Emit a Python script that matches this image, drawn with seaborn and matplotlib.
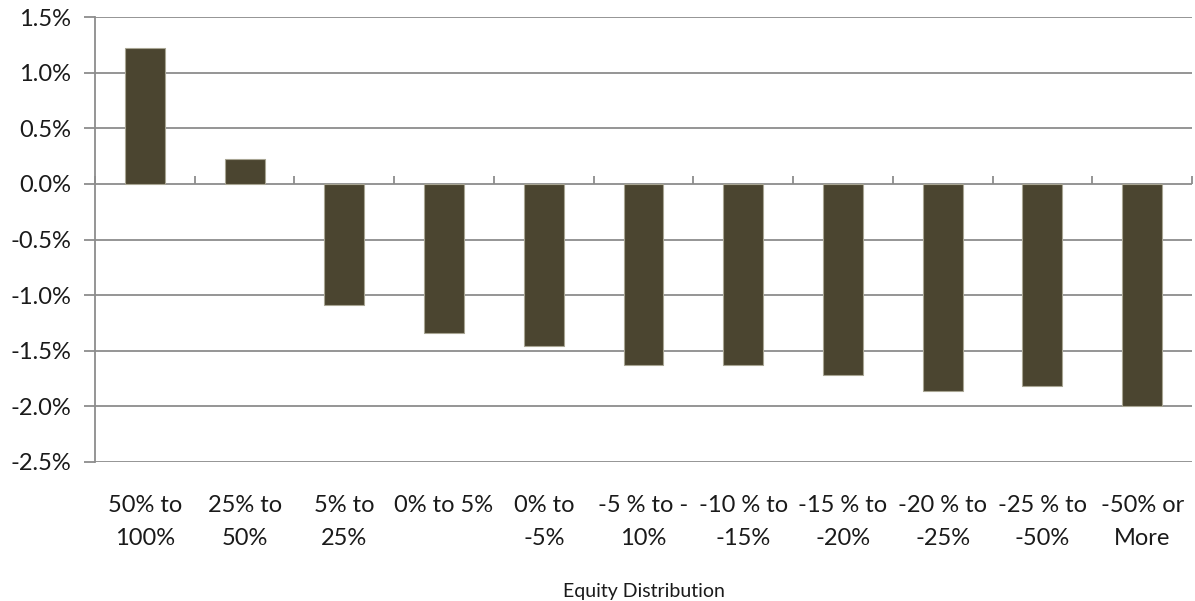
import matplotlib
matplotlib.use("Agg")
import matplotlib.pyplot as plt
from matplotlib.ticker import FuncFormatter, FixedLocator
import numpy as np
import pandas as pd
import seaborn as sns

# Equity distribution buckets and the average return for each
categories = [
    "50% to\n100%", "25% to\n50%", "5% to\n25%", "0% to 5%", "0% to\n-5%",
    "-5 % to -\n10%", "-10 % to\n-15%", "-15 % to\n-20%", "-20 % to\n-25%",
    "-25 % to\n-50%", "-50% or\nMore",
]
returns = [1.22, 0.22, -1.09, -1.34, -1.46, -1.625, -1.625, -1.715, -1.865, -1.82, -2.00]
y_ticks = [-2.5, -2.0, -1.5, -1.0, -0.5, 0.0, 0.5, 1.0, 1.5]
x_title = "Equity Distribution"

df = pd.DataFrame({"bucket": categories, "ret": returns})

sns.set_theme(style="white")
plt.rcParams["font.family"] = ["Lato", "DejaVu Sans"]

fig = plt.figure(figsize=(11.95, 6.01), dpi=100)
ax = fig.add_axes([95 / 1195, (601 - 462) / 601, (1192 - 95) / 1195, (462 - 17) / 601])

sns.barplot(data=df, x="bucket", y="ret", color="#4B4530", saturation=1,
            width=0.4, edgecolor="#A8A593", linewidth=0.8, ax=ax, zorder=3)

ymin, ymax = y_ticks[0], y_ticks[-1]
ax.set_ylim(ymin, ymax)
ax.set_xlim(-0.5, len(categories) - 0.5)
ax.set_ylabel("")

text_color = "#1a1a1a"
grid_color = "#8C8C8C"
ax.yaxis.set_major_locator(FixedLocator(y_ticks))
ax.yaxis.set_major_formatter(FuncFormatter(lambda v, _: f"{v:.1f}%"))
ax.grid(axis="y", color=grid_color, linewidth=1.3, zorder=0)
ax.tick_params(axis="y", direction="out", length=8, width=1.3, color=grid_color,
               labelsize=17, pad=9, left=True, labelcolor=text_color)

for side in ("top", "right", "bottom"):
    ax.spines[side].set_visible(False)
ax.spines["left"].set_color(grid_color)
ax.spines["left"].set_linewidth(1.3)

# Category labels sit beneath the plot area
ax.tick_params(axis="x", length=0, labelsize=17, pad=24, labelcolor=text_color)
ax.set_xlabel(x_title, fontsize=14, labelpad=24, color=text_color)
for lbl in ax.get_xticklabels():
    lbl.set_linespacing(1.7)

# Horizontal category axis crosses at zero, with ticks between buckets
zero_pos = (0 - ymin) / (ymax - ymin)
sec = ax.secondary_xaxis(zero_pos)
sec.set_xticks(np.arange(len(categories) + 1) - 0.5)
sec.set_xticklabels([])
sec.tick_params(axis="x", direction="out", length=6, width=1.3, color=grid_color)
sec.spines["bottom"].set_color(grid_color)
sec.spines["bottom"].set_linewidth(1.3)
for side in ("top", "left", "right"):
    sec.spines[side].set_visible(False)

fig.savefig("out.png", dpi=100, facecolor="white")
